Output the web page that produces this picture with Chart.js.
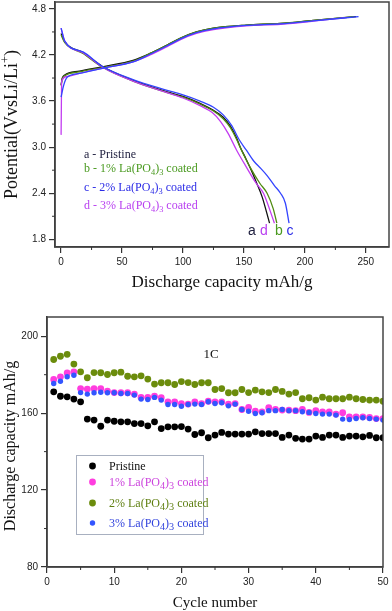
<!DOCTYPE html>
<html>
<head>
<meta charset="utf-8">
<script src="https://cdn.jsdelivr.net/npm/chart.js@4.4.0/dist/chart.umd.min.js"></script>
<style>
  html, body { margin: 0; padding: 0; background: #fff; }
  #wrap { position: relative; width: 392px; height: 611px; overflow: hidden; }
  #top { position: absolute; left: 0; top: 0; }
  #bottom { position: absolute; left: 0; top: 300px; }
</style>
</head>
<body>
<div id="wrap">
  <canvas id="top" width="392" height="300"></canvas>
  <canvas id="bottom" width="392" height="311"></canvas>
</div>
<script>
// --- charge / discharge profiles, [capacity mAh/g, potential V] ---
const pristineCharge = [[0,3.81],[1,3.90],[3,3.94],[15,3.99],[35,4.05],[59,4.13],[73,4.22],[87,4.33],[98,4.42],[111,4.50],[125,4.55],[152,4.59],[180,4.61],[207,4.65],[242,4.70]];
const pristineDischarge = [[0,4.48],[3,4.37],[18,4.23],[34,4.05],[59,3.87],[87,3.72],[100,3.66],[114,3.57],[125,3.48],[133,3.39],[139,3.27],[144,3.12],[147,3.00],[151,2.87],[156,2.70],[160,2.55],[165,2.35],[171,2.01]];
const coated1Charge = [[0,3.80],[1,3.89],[3,3.93],[15,3.98],[35,4.04],[59,4.12],[73,4.22],[87,4.33],[98,4.42],[111,4.50],[125,4.55],[152,4.59],[180,4.61],[207,4.65],[240,4.70]];
const coated1Discharge = [[0,4.46],[3,4.36],[18,4.22],[34,4.04],[59,3.86],[87,3.71],[100,3.65],[114,3.56],[125,3.47],[133,3.37],[139,3.25],[144,3.10],[148,2.96],[155,2.74],[163,2.53],[169,2.40],[174,2.20],[177,2.01]];
const coated2Charge = [[0,3.65],[2,3.80],[5,3.91],[15,3.96],[35,4.03],[59,4.11],[73,4.21],[87,4.32],[98,4.41],[111,4.49],[125,4.54],[152,4.585],[180,4.605],[207,4.645],[244,4.70]];
const coated2Discharge = [[0,4.55],[3,4.38],[18,4.24],[34,4.05],[59,3.88],[87,3.74],[100,3.68],[114,3.60],[125,3.52],[133,3.42],[140,3.28],[146,3.10],[152,2.96],[158,2.82],[164,2.72],[169,2.63],[175,2.50],[180,2.40],[184,2.27],[187,2.01]];
const coated3Charge = [[0,3.16],[0.5,3.86],[5,3.92],[15,3.96],[35,4.03],[59,4.11],[73,4.20],[87,4.31],[98,4.40],[111,4.48],[125,4.53],[152,4.58],[180,4.60],[207,4.64],[235,4.69]];
const coated3Discharge = [[0,4.55],[3,4.38],[18,4.23],[34,4.04],[59,3.86],[87,3.71],[100,3.64],[114,3.54],[124,3.45],[131,3.33],[137,3.18],[144,2.96],[152,2.74],[160,2.53],[166,2.40],[175,2.01]];

const capTicks = [0, 50, 100, 150, 200, 250];
const capMinor = [25, 75, 125, 175, 225];
const potTicks = [1.8, 2.4, 3.0, 3.6, 4.2, 4.8];
const potMinor = [2.1, 2.7, 3.3, 3.9, 4.5];
const curveLabels = ['a - Pristine', 'b - 1% La(PO4)3 coated', 'c - 2% La(PO4)3 coated', 'd - 3% La(PO4)3 coated'];
const endLetters = ['a', 'd', 'b', 'c'];

// --- cycling at 1C, discharge capacity mAh/g ---
const cycles = [1,2,3,4,5,6,7,8,9,10,11,12,13,14,15,16,17,18,19,20,21,22,23,24,25,26,27,28,29,30,31,32,33,34,35,36,37,38,39,40,41,42,43,44,45,46,47,48,49,50];
const pristineCap = [171.1,168.8,168.5,167.3,165.9,156.9,156.4,153.2,156.4,155.8,155.5,155.5,154.6,154.6,153.4,155.5,152.0,152.9,152.9,153.0,151.7,148.9,149.8,147.2,148.6,150.0,149.1,149.1,149.1,149.1,150.3,149.4,149.4,149.4,147.4,148.6,146.9,146.5,146.5,148.1,147.4,148.6,148.6,147.4,148.1,148.1,147.7,148.4,147.2,147.2];
const coated1Cap = [177.5,178.9,180.9,181.5,172.8,172.5,172.8,172.8,171.4,170.7,170.6,170.6,169.9,168.2,168.2,168.8,168.0,165.9,165.9,165.0,164.7,165.9,165.0,166.2,165.9,165.9,164.7,165.0,161.9,163.0,161.0,160.7,162.8,161.9,161.6,161.6,161.3,161.9,160.4,161.3,160.7,160.7,159.5,160.2,158.1,158.1,158.1,157.8,157.2,157.2];
const coated2Cap = [187.9,189.6,190.6,185.5,181.5,178.4,181.1,181.0,180.1,181.0,181.3,179.2,178.9,179.4,177.7,175.1,175.8,175.8,174.9,176.4,175.9,174.9,175.8,175.8,172.3,172.8,170.6,170.6,172.3,170.7,172.0,171.1,170.7,172.3,171.3,169.9,170.7,167.5,168.0,166.8,168.3,167.5,167.5,167.5,168.3,167.5,167.1,166.8,166.8,166.2];
const coated3Cap = [175.4,176.6,178.9,179.7,170.7,169.9,170.6,170.9,170.6,170.6,170.2,170.2,169.4,167.3,167.1,168.2,166.8,164.5,164.5,163.6,164.5,164.7,164.5,165.9,165.0,165.4,163.8,164.7,161.9,161.0,159.8,160.2,161.3,161.3,161.9,161.3,161.3,160.7,160.4,159.8,159.5,159.5,159.0,156.9,156.7,157.2,157.6,157.2,156.9,156.4];

const cycleTicks = [0, 10, 20, 30, 40, 50];
const cycleMinor = [5, 15, 25, 35, 45];
const capAxisTicks = [80, 120, 160, 200];
const capAxisMinor = [100, 140, 180];
const seriesNames = ['Pristine', '1% La(PO4)3 coated', '2% La(PO4)3 coated', '3% La(PO4)3 coated'];

const SERIF = '"Liberation Serif", "Times New Roman", serif';
const SANS = '"Liberation Sans", Arial, sans-serif';
const AXIS = '#333';

// split "La(PO4)3" into normal / subscript pieces
function chem(str) {
  const m = str.match(/\(PO4\)3/);
  if (!m) return [[str, 0]];
  return [
    [str.slice(0, m.index) + '(PO', 0],
    ['4', 1],
    [')', 0],
    ['3', 1],
    [str.slice(m.index + m[0].length), 0]
  ];
}

// parts: [text, shift]; shift 1 = subscript, -1 = superscript
function richText(ctx, x, y, parts, size, color, align, subScale) {
  const sc = subScale || 0.7;
  ctx.save();
  ctx.fillStyle = color;
  ctx.textBaseline = 'alphabetic';
  ctx.textAlign = 'left';
  const widths = parts.map(([t, s]) => {
    ctx.font = (s ? size * sc : size) + 'px ' + SERIF;
    return ctx.measureText(t).width;
  });
  const total = widths.reduce((a, b) => a + b, 0);
  let cx = align === 'center' ? x - total / 2 : x;
  parts.forEach(([t, s], i) => {
    ctx.font = (s ? size * sc : size) + 'px ' + SERIF;
    const dy = s === 1 ? size * 0.28 : s === -1 ? -size * 0.42 : 0;
    ctx.fillText(t, cx, y + dy);
    cx += widths[i];
  });
  ctx.restore();
}

function minorTicks(xMinor, yMinor) {
  return {
    id: 'minorTicks',
    afterDraw(chart) {
      const { ctx, chartArea: a, scales: { x, y } } = chart;
      ctx.save();
      ctx.strokeStyle = AXIS;
      ctx.lineWidth = 1;
      ctx.beginPath();
      xMinor.forEach(v => { const px = x.getPixelForValue(v); ctx.moveTo(px, a.bottom); ctx.lineTo(px, a.bottom + 3); });
      yMinor.forEach(v => { const py = y.getPixelForValue(v); ctx.moveTo(a.left, py); ctx.lineTo(a.left - 3, py); });
      ctx.stroke();
      ctx.restore();
    }
  };
}

const frame = {
  id: 'frame',
  afterDraw(chart) {
    const { ctx, chartArea: a } = chart;
    ctx.save();
    ctx.strokeStyle = '#444';
    ctx.lineWidth = 1.5;
    ctx.strokeRect(a.left, a.top, a.right - a.left, a.bottom - a.top);
    ctx.restore();
  }
};

function axisOpts(min, max, tickVals, width, height, fmt) {
  return {
    type: 'linear', min, max,
    afterBuildTicks: s => { s.ticks = tickVals.map(v => ({ value: v })); },
    afterFit: s => {
      if (width) s.width = width;
      if (height) s.height = height;
      s.paddingTop = 0; s.paddingBottom = 0; s.paddingLeft = 0; s.paddingRight = 0;
    },
    grid: { drawOnChartArea: false, tickLength: 6, color: AXIS, lineWidth: 1.2 },
    border: { color: AXIS, width: 1.5 },
    ticks: { font: { family: SANS, size: 10 }, color: '#222', padding: 3, maxRotation: 0, autoSkip: false, callback: fmt }
  };
}

// ---------------- top chart: charge / discharge curves ----------------
const curves = [
  { pts: coated2Charge, color: '#3344ff' }, { pts: coated2Discharge, color: '#3344ff' },
  { pts: coated3Charge, color: '#c23cf0' }, { pts: coated3Discharge, color: '#c23cf0' },
  { pts: coated1Charge, color: '#4f8a10' }, { pts: coated1Discharge, color: '#4f8a10' },
  { pts: pristineCharge, color: '#111111' }, { pts: pristineDischarge, color: '#111111' }
];

const topAnnotations = {
  id: 'topAnnotations',
  afterDraw(chart) {
    const ctx = chart.ctx;
    const colors = ['#1c1c3c', '#4a9a20', '#2b2be6', '#b83ef0'];
    const rows = [158, 172, 191, 209];
    curveLabels.forEach((t, i) => richText(ctx, 84, rows[i], chem(t), 12, colors[i], 'left'));

    const letterColors = { a: '#1c1c3c', b: '#4a9a20', c: '#2b2be6', d: '#b83ef0' };
    const letterX = [252, 264, 279, 290];
    ctx.save();
    ctx.font = '14px ' + SANS;
    ctx.textAlign = 'center';
    ctx.textBaseline = 'middle';
    endLetters.forEach((l, i) => { ctx.fillStyle = letterColors[l]; ctx.fillText(l, letterX[i], 231); });
    ctx.restore();

    // axis titles
    richText(ctx, 222, 287, [['Discharge capacity mAh/g', 0]], 17, '#111', 'center');
    ctx.save();
    ctx.translate(17, 124.5);
    ctx.rotate(-Math.PI / 2);
    richText(ctx, 0, 0, [['Potential(VvsLi/Li', 0], ['+', -1], [')', 0]], 18, '#111', 'center');
    ctx.restore();
  }
};

new Chart(document.getElementById('top'), {
  type: 'scatter',
  data: {
    datasets: curves.map(c => ({
      data: c.pts.map(([x, y]) => ({ x, y })),
      showLine: true,
      borderColor: c.color,
      borderWidth: 1.3,
      pointRadius: 0,
      cubicInterpolationMode: 'monotone',
      fill: false
    }))
  },
  options: {
    responsive: false,
    animation: false,
    devicePixelRatio: 1,
    layout: { padding: { left: 0, right: 3, top: 2, bottom: 0 } },
    plugins: { legend: { display: false }, tooltip: { enabled: false } },
    scales: {
      x: axisOpts(-5, 269, capTicks, 0, 53, v => String(v)),
      y: axisOpts(1.7, 4.89, potTicks, 55, 0, v => v.toFixed(1))
    }
  },
  plugins: [frame, minorTicks(capMinor, potMinor), topAnnotations]
});

// ---------------- bottom chart: cycling ----------------
const series = [
  { vals: coated3Cap, color: '#3355ff', r: 2.7, order: 0 },
  { vals: coated1Cap, color: '#ff3ddf', r: 3.4, order: 1 },
  { vals: coated2Cap, color: '#6b8c0c', r: 3.4, order: 2 },
  { vals: pristineCap, color: '#000000', r: 3.4, order: 3 }
];

const bottomAnnotations = {
  id: 'bottomAnnotations',
  afterDraw(chart) {
    const ctx = chart.ctx;
    // legend box
    ctx.save();
    ctx.fillStyle = '#fff';
    ctx.fillRect(76, 155, 127, 79);
    ctx.strokeStyle = '#a8b0c0';
    ctx.lineWidth = 1;
    ctx.strokeRect(76.5, 155.5, 127, 79);
    const rows = [166, 182, 203, 223];
    const dot = ['#000000', '#ff3ddf', '#6b8c0c', '#3355ff'];
    const rad = [3.4, 3.4, 3.4, 2.7];
    const txt = ['#111', '#cc44dd', '#5f7f10', '#3344dd'];
    seriesNames.forEach((n, i) => {
      ctx.fillStyle = dot[i];
      ctx.beginPath();
      ctx.arc(92.5, rows[i], rad[i], 0, Math.PI * 2);
      ctx.fill();
      richText(ctx, 109, rows[i] + 4, chem(n), 12, txt[i], 'left', 0.85);
    });
    ctx.restore();

    ctx.save();
    ctx.font = '13px ' + SERIF;
    ctx.fillStyle = '#111';
    ctx.textAlign = 'center';
    ctx.textBaseline = 'middle';
    ctx.fillText('1C', 211, 55);
    ctx.restore();

    richText(ctx, 215, 307, [['Cycle number', 0]], 15, '#111', 'center');
    ctx.save();
    ctx.translate(15, 146);
    ctx.rotate(-Math.PI / 2);
    richText(ctx, 0, 0, [['Discharge capacity mAh/g', 0]], 16, '#111', 'center');
    ctx.restore();
  }
};

new Chart(document.getElementById('bottom'), {
  type: 'scatter',
  data: {
    datasets: series.map(s => ({
      data: cycles.map((c, i) => ({ x: c, y: s.vals[i] })),
      backgroundColor: s.color,
      borderWidth: 0,
      pointRadius: s.r,
      order: s.order
    }))
  },
  options: {
    responsive: false,
    animation: false,
    devicePixelRatio: 1,
    layout: { padding: { left: 0, right: 9, top: 17, bottom: 0 } },
    plugins: { legend: { display: false }, tooltip: { enabled: false } },
    scales: {
      x: axisOpts(0, 50, cycleTicks, 0, 44, v => String(v)),
      y: axisOpts(80, 210, capAxisTicks, 47, 0, v => String(v))
    }
  },
  plugins: [frame, minorTicks(cycleMinor, capAxisMinor), bottomAnnotations]
});
</script>
</body>
</html>
